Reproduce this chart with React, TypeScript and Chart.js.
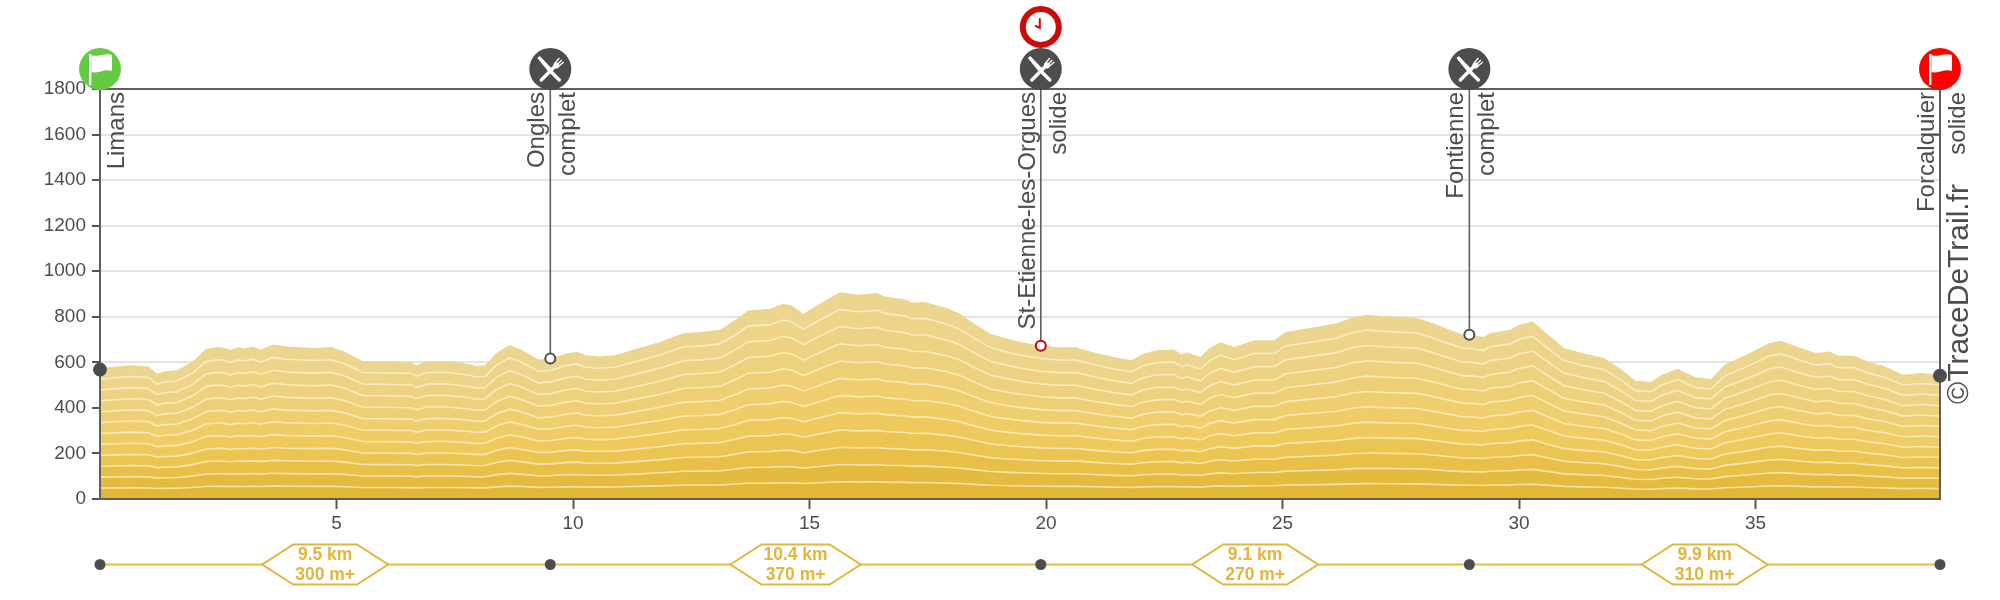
import React, { useEffect, useRef } from "react";
import { Chart, registerables } from "chart.js";

Chart.register(...registerables);

const kmPoints = [0, 0.64, 1.02, 1.21, 1.35, 1.63, 1.96, 2.24, 2.48, 2.62, 2.76, 2.92, 3.05, 3.24, 3.4, 3.66, 3.94, 4.51, 4.89, 5.17, 5.55, 6.02, 6.59, 6.68, 6.92, 7.34, 7.81, 7.95, 8.14, 8.38, 8.66, 8.9, 9.27, 9.54, 9.84, 10.08, 10.27, 10.55, 10.88, 11.3, 11.87, 12.34, 12.7, 13.11, 13.46, 13.7, 14.16, 14.44, 14.62, 14.87, 15.22, 15.64, 16.03, 16.42, 16.59, 17.05, 17.16, 17.44, 17.9, 18.18, 18.46, 18.83, 19.21, 19.49, 19.9, 20.25, 20.63, 21, 21.43, 21.81, 22.04, 22.33, 22.7, 22.87, 22.97, 23.27, 23.46, 23.69, 23.98, 24.4, 24.83, 25.06, 25.44, 26.13, 26.51, 26.8, 27.17, 27.83, 28.12, 28.49, 28.82, 28.97, 29.25, 29.39, 29.82, 30, 30.29, 30.57, 30.95, 31.33, 31.8, 32.17, 32.46, 32.79, 33.02, 33.35, 33.73, 34.06, 34.35, 34.82, 35.29, 35.54, 35.95, 36.28, 36.56, 36.75, 37.08, 37.37, 37.74, 38.12, 38.5, 38.9];
const elevation = [575, 587, 582, 550, 560, 565, 604, 658, 667, 664, 654, 666, 661, 670, 656, 678, 669, 663, 667, 648, 606, 604, 601, 587, 606, 606, 593, 584, 587, 641, 676, 656, 612, 617, 638, 647, 631, 626, 631, 656, 692, 729, 733, 743, 790, 828, 835, 857, 849, 813, 857, 908, 897, 904, 889, 875, 863, 865, 838, 813, 773, 724, 702, 688, 673, 666, 666, 644, 623, 609, 637, 653, 656, 634, 644, 623, 663, 688, 667, 697, 697, 733, 746, 770, 799, 809, 802, 795, 776, 746, 721, 721, 711, 729, 743, 765, 779, 729, 663, 641, 619, 568, 519, 514, 546, 572, 534, 527, 590, 634, 685, 695, 663, 641, 648, 629, 629, 604, 582, 546, 553, 546];

const bandFractions = [1 / 12, 2 / 12, 3 / 12, 4 / 12, 5 / 12, 6 / 12, 7 / 12, 8 / 12, 9 / 12, 10 / 12, 11 / 12, 1];
const bandColors = ["#e2b636", "#e5bb3f", "#e8c048", "#ebc552", "#eec95c", "#efcc66", "#efce6e", "#eecf75", "#eed17c", "#edd283", "#edd489", "#ecd58e"];

const stopKm = [0, 9.52, 19.89, 28.95, 38.9];
const stopElevation = [568, 617, 673, 721, 541];
const stopNames = ["Limans", "Ongles", "St-Etienne-les-Orgues", "Fontienne", "Forcalquier"];
const stopSupplies = ["", "complet", "solide", "complet", "solide"];
const stopIcons = ["start", "food", "food", "food", "end"];
const clockStopIndex = 2;
const stopMarkerFill = ["#4d4d4d", "#ffffff", "#ffffff", "#ffffff", "#4d4d4d"];
const stopMarkerStroke = ["#4d4d4d", "#4d4d4d", "#cc0000", "#4d4d4d", "#4d4d4d"];

const segmentDistance = ["9.5 km", "10.4 km", "9.1 km", "9.9 km"];
const segmentGain = ["300 m+", "370 m+", "270 m+", "310 m+"];

const xTickValues = [5, 10, 15, 20, 25, 30, 35];
const yMax = 1800;
const copyright = "©TraceDeTrail.fr";

const INK = "#4d4d4d";
const GOLD = "#e3b53a";
const FONT = '"Liberation Sans", Arial, sans-serif';

function drawFlag(ctx: CanvasRenderingContext2D, cx: number, cy: number, color: string) {
  ctx.save();
  ctx.translate(cx, cy);
  ctx.fillStyle = color;
  ctx.beginPath();
  ctx.arc(0, 0, 21, 0, Math.PI * 2);
  ctx.fill();
  ctx.fillStyle = "#ffffff";
  ctx.fillRect(-11, -15, 2.4, 31);
  ctx.beginPath();
  ctx.moveTo(-8.5, -14);
  ctx.bezierCurveTo(-3, -11, 5, -17, 12, -14);
  ctx.lineTo(12, 2);
  ctx.bezierCurveTo(5, -1, -3, 5, -8.5, 3);
  ctx.closePath();
  ctx.fill();
  ctx.restore();
}

function drawFood(ctx: CanvasRenderingContext2D, cx: number, cy: number) {
  ctx.save();
  ctx.translate(cx, cy);
  ctx.fillStyle = INK;
  ctx.beginPath();
  ctx.arc(0, 0, 21, 0, Math.PI * 2);
  ctx.fill();
  ctx.strokeStyle = "#ffffff";
  ctx.fillStyle = "#ffffff";
  ctx.lineCap = "round";
  // knife
  ctx.lineWidth = 3.4;
  ctx.beginPath();
  ctx.moveTo(-1, 1);
  ctx.lineTo(9, 11);
  ctx.stroke();
  ctx.beginPath();
  ctx.moveTo(-13, -11);
  ctx.lineTo(-10.5, -13);
  ctx.lineTo(1, -1);
  ctx.lineTo(-2, 2.5);
  ctx.closePath();
  ctx.fill();
  // fork handle
  ctx.lineWidth = 3.4;
  ctx.beginPath();
  ctx.moveTo(-9, 11);
  ctx.lineTo(5, -3);
  ctx.stroke();
  // fork head
  ctx.lineWidth = 1.3;
  ctx.lineCap = "butt";
  ctx.beginPath();
  ctx.moveTo(4, -5);
  ctx.lineTo(9, -11);
  ctx.moveTo(6, -3.5);
  ctx.lineTo(11.5, -9);
  ctx.moveTo(7.5, -2);
  ctx.lineTo(13.5, -7);
  ctx.stroke();
  ctx.beginPath();
  ctx.arc(6, -3.5, 3, 0, Math.PI * 2);
  ctx.fill();
  ctx.restore();
}

function drawClock(ctx: CanvasRenderingContext2D, cx: number, cy: number) {
  ctx.save();
  ctx.translate(cx, cy);
  ctx.fillStyle = "#ffffff";
  ctx.strokeStyle = "#cc0a0a";
  ctx.lineWidth = 6;
  ctx.beginPath();
  ctx.arc(0, 0, 18, 0, Math.PI * 2);
  ctx.fill();
  ctx.stroke();
  ctx.lineWidth = 2;
  ctx.lineCap = "round";
  ctx.beginPath();
  ctx.moveTo(-1, -8);
  ctx.lineTo(-1, 1);
  ctx.lineTo(-5, -1);
  ctx.stroke();
  ctx.restore();
}

function rotatedText(ctx: CanvasRenderingContext2D, text: string, x: number, y: number, font: string) {
  ctx.save();
  ctx.translate(x, y);
  ctx.rotate(-Math.PI / 2);
  ctx.font = font;
  ctx.fillStyle = INK;
  ctx.textAlign = "right";
  ctx.textBaseline = "alphabetic";
  ctx.fillText(text, 0, 0);
  ctx.restore();
}

const markersIndex = bandFractions.length;

const coursePlugin = {
  id: "course",
  beforeDatasetDraw(chart: any, args: any) {
    if (args.index !== markersIndex) return;
    const { ctx, chartArea, scales } = chart;
    ctx.save();
    ctx.strokeStyle = "#5f5f5f";
    ctx.lineWidth = 2;
    ctx.strokeRect(chartArea.left, chartArea.top, chartArea.right - chartArea.left, chartArea.bottom - chartArea.top);
    ctx.lineWidth = 1.6;
    stopKm.forEach((km, i) => {
      const x = scales.x.getPixelForValue(km);
      ctx.beginPath();
      ctx.moveTo(x, chartArea.top);
      ctx.lineTo(x, scales.y.getPixelForValue(stopElevation[i]));
      ctx.stroke();
    });
    ctx.restore();
  },
  afterDraw(chart: any) {
    const { ctx, chartArea, scales } = chart;
    const xs = stopKm.map((km) => scales.x.getPixelForValue(km));
    const iconY = chartArea.top - 20;
    const nameFont = `24px ${FONT}`;

    xs.forEach((x, i) => {
      if (stopIcons[i] === "start") drawFlag(ctx, x, iconY, "#66c944");
      else if (stopIcons[i] === "end") drawFlag(ctx, x, iconY, "#ff0000");
      else drawFood(ctx, x, iconY);
      if (i === clockStopIndex) drawClock(ctx, x, iconY - 42);

      const textTop = chartArea.top + 3;
      if (stopSupplies[i]) {
        rotatedText(ctx, stopNames[i], x - 6, textTop, nameFont);
        rotatedText(ctx, stopSupplies[i], x + 25, textTop, nameFont);
      } else {
        rotatedText(ctx, stopNames[i], x + 24, textTop, nameFont);
      }
    });

    rotatedText(ctx, copyright, xs[xs.length - 1] + 28, chartArea.top + 95, `30px ${FONT}`);

    // route strip below the axis
    const stripY = 564.5;
    ctx.save();
    ctx.strokeStyle = "#e6bb42";
    ctx.lineWidth = 2;
    ctx.beginPath();
    ctx.moveTo(xs[0], stripY);
    ctx.lineTo(xs[xs.length - 1], stripY);
    ctx.stroke();
    ctx.fillStyle = INK;
    xs.forEach((x) => {
      ctx.beginPath();
      ctx.arc(x, stripY, 5.5, 0, Math.PI * 2);
      ctx.fill();
    });
    segmentDistance.forEach((dist, i) => {
      const cx = (xs[i] + xs[i + 1]) / 2;
      ctx.font = `bold 17.5px ${FONT}`;
      const w = Math.max(ctx.measureText(dist).width, ctx.measureText(segmentGain[i]).width);
      const flat = w / 2 + 2;
      const tip = flat + 31;
      ctx.beginPath();
      ctx.moveTo(cx - tip, stripY);
      ctx.lineTo(cx - flat, stripY - 20);
      ctx.lineTo(cx + flat, stripY - 20);
      ctx.lineTo(cx + tip, stripY);
      ctx.lineTo(cx + flat, stripY + 20);
      ctx.lineTo(cx - flat, stripY + 20);
      ctx.closePath();
      ctx.fillStyle = "#ffffff";
      ctx.fill();
      ctx.strokeStyle = GOLD;
      ctx.lineWidth = 2;
      ctx.stroke();
      ctx.fillStyle = GOLD;
      ctx.textAlign = "center";
      ctx.textBaseline = "middle";
      ctx.fillText(dist, cx, stripY - 9);
      ctx.fillText(segmentGain[i], cx, stripY + 10.5);
    });
    ctx.restore();
  },
};

export default function App() {
  const ref = useRef<HTMLCanvasElement>(null);
  useEffect(() => {
    const bandSets = bandFractions.map((f, i) => ({
      type: "line" as const,
      data: kmPoints.map((km, j) => ({ x: km, y: elevation[j] * f })),
      borderColor: f === 1 ? "rgba(0,0,0,0)" : "rgba(255,245,215,0.7)",
      borderWidth: f === 1 ? 0 : 1.6,
      backgroundColor: bandColors[i],
      fill: "origin",
      pointRadius: 0,
      tension: 0,
    }));
    const chart = new Chart(ref.current as HTMLCanvasElement, {
      type: "line",
      data: {
        datasets: [
          ...bandSets,
          {
            type: "line" as const,
            data: stopKm.map((km, i) => ({ x: km, y: stopElevation[i] })),
            showLine: false,
            clip: false,
            order: -1,
            pointRadius: [6, 5, 5, 5, 6],
            pointBackgroundColor: stopMarkerFill,
            pointBorderColor: stopMarkerStroke,
            pointBorderWidth: 2,
          },
        ] as any,
      },
      options: {
        animation: false,
        responsive: false,
        devicePixelRatio: 1,
        layout: { padding: { top: 89, right: 60, left: 0, bottom: 0 } },
        plugins: { legend: { display: false }, tooltip: { enabled: false } },
        scales: {
          x: {
            type: "linear",
            min: 0,
            max: 38.9,
            afterBuildTicks: (s: any) => {
              s.ticks = xTickValues.map((value) => ({ value }));
            },
            afterFit: (s: any) => {
              s.height = 101;
            },
            grid: { drawOnChartArea: false, tickLength: 10, tickColor: "#555555", tickWidth: 2 },
            border: { color: "#5f5f5f", width: 2 },
            ticks: { color: INK, font: { family: FONT, size: 19 }, padding: 3, maxRotation: 0, autoSkip: false },
          },
          y: {
            type: "linear",
            min: 0,
            max: yMax,
            afterFit: (s: any) => {
              s.width = 100;
            },
            grid: {
              color: "#e4e4e4",
              lineWidth: 2,
              tickLength: 8,
              tickColor: "#555555",
              tickWidth: 2,
            },
            border: { color: "#5f5f5f", width: 2 },
            ticks: {
              stepSize: 200,
              color: INK,
              font: { family: FONT, size: 19 },
              padding: 6,
              callback: (v: any) => String(v),
            },
          },
        },
      },
      plugins: [coursePlugin],
    } as any);
    return () => chart.destroy();
  }, []);
  return (
    <canvas
      ref={ref}
      width={2000}
      height={600}
      style={{ position: "fixed", left: 0, top: 0, width: 2000, height: 600, display: "block" }}
    />
  );
}
